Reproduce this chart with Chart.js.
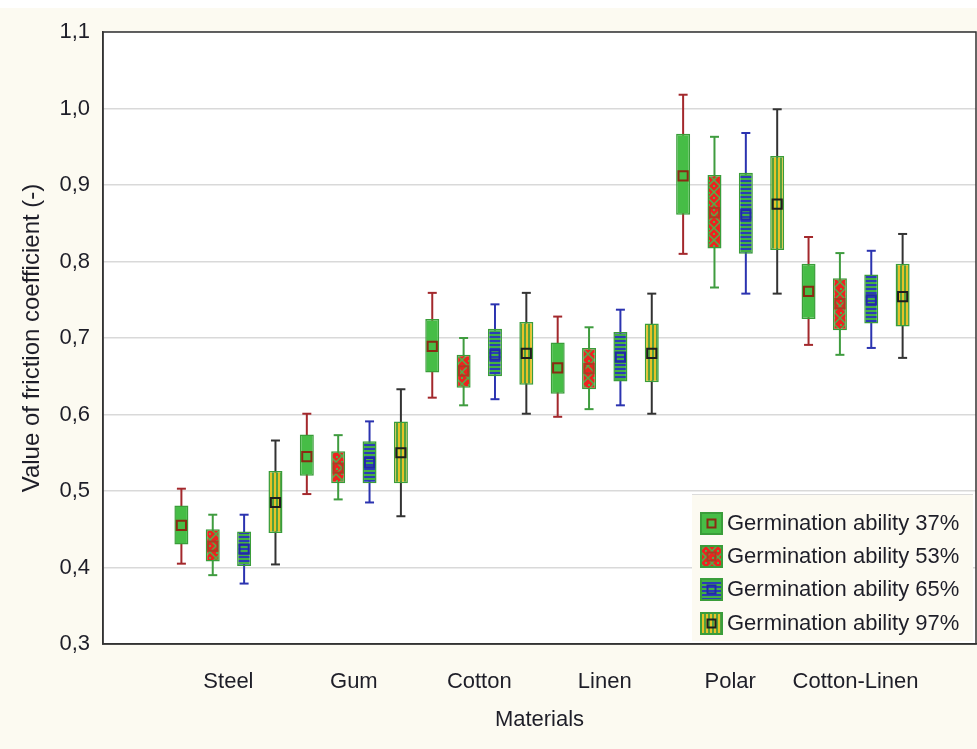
<!DOCTYPE html>
<html>
<head>
<meta charset="utf-8">
<script src="https://cdn.jsdelivr.net/npm/chart.js@4.4.0/dist/chart.umd.min.js"></script>
<style>
html, body { margin: 0; padding: 0; background: #fcfaf1; }
#wrap { position: relative; width: 977px; height: 749px; }
#legend { position: absolute; left: 692px; top: 494px; width: 281px; height: 146px; background: #fcfaf1; border-top: 1px solid #dcdcdc;
	font-family: "Liberation Sans", Arial, sans-serif; font-size: 22px; color: #1e1e28; }
.item { position: absolute; left: 8px; height: 24px; display: flex; align-items: center; white-space: nowrap; }
.item canvas { margin-right: 4px; }
</style>
</head>
<body>
<div id="wrap">
	<canvas id="myChart" width="977" height="749"></canvas>
	<div id="legend"></div>
</div>
<script>
let materials = ["Steel", "Gum", "Cotton", "Linen", "Polar", "Cotton-Linen"];
let series_name = ["Germination ability 37%", "Germination ability 53%", "Germination ability 65%", "Germination ability 97%"];

// one row per series, one value per material
let mean_val = [
	[0.455, 0.545, 0.689, 0.661, 0.912, 0.761],
	[0.428, 0.530, 0.657, 0.660, 0.864, 0.745],
	[0.424, 0.537, 0.678, 0.675, 0.861, 0.750],
	[0.485, 0.550, 0.680, 0.680, 0.875, 0.754]
];
let box_low = [
	[0.430, 0.520, 0.655, 0.627, 0.861, 0.725],
	[0.408, 0.510, 0.635, 0.633, 0.817, 0.710],
	[0.402, 0.510, 0.650, 0.643, 0.810, 0.719],
	[0.445, 0.510, 0.639, 0.642, 0.815, 0.715]
];
let box_high = [
	[0.481, 0.574, 0.725, 0.694, 0.967, 0.797],
	[0.450, 0.552, 0.678, 0.687, 0.913, 0.778],
	[0.447, 0.565, 0.712, 0.708, 0.916, 0.783],
	[0.526, 0.591, 0.721, 0.719, 0.938, 0.797]
];
let whisk_low = [
	[0.405, 0.496, 0.622, 0.597, 0.810, 0.691],
	[0.390, 0.489, 0.612, 0.607, 0.766, 0.678],
	[0.379, 0.485, 0.620, 0.612, 0.758, 0.687],
	[0.404, 0.467, 0.601, 0.601, 0.758, 0.674]
];
let whisk_high = [
	[0.503, 0.601, 0.759, 0.728, 1.018, 0.832],
	[0.469, 0.573, 0.700, 0.714, 0.963, 0.811],
	[0.469, 0.591, 0.744, 0.737, 0.968, 0.814],
	[0.566, 0.633, 0.759, 0.758, 0.999, 0.836]
];

let offsets = [-0.375, -0.125, 0.125, 0.375];
let whisk_color = ["#a3282c", "#3f9c3f", "#2b33b0", "#333333"];
let mean_color = ["#8a2a12", "#b03a22", "#2228a8", "#1e1e1e"];
let box_border = "#3a9d3a";

function makeFill(k) {
	if (k == 0) return "#46bd46";
	let c = document.createElement("canvas");
	let g = c.getContext("2d");
	if (k == 1) {
		c.width = 12; c.height = 12;
		g.fillStyle = "#ec2420"; g.fillRect(0, 0, 12, 12);
		g.strokeStyle = "#4fb04a"; g.lineWidth = 1.5;
		g.beginPath();
		g.moveTo(0, 6); g.lineTo(6, 0); g.lineTo(12, 6); g.lineTo(6, 12); g.closePath();
		g.stroke();
		g.fillStyle = "#4fb04a";
		g.fillRect(5, 5, 2, 2); g.fillRect(0, 0, 2, 2);
	} else if (k == 2) {
		c.width = 4; c.height = 4;
		g.fillStyle = "#44b044"; g.fillRect(0, 0, 4, 4);
		g.fillStyle = "#2b3cb6"; g.fillRect(0, 0, 4, 2);
	} else {
		c.width = 4; c.height = 4;
		g.fillStyle = "#e6c228"; g.fillRect(0, 0, 4, 4);
		g.fillStyle = "#52a23c"; g.fillRect(0, 0, 2, 4);
	}
	return g.createPattern(c, "repeat");
}

let datasets = [];
for (let s = 0; s < 4; s++) {
	let xs = materials.map((m, i) => i + 1 + offsets[s]);
	datasets.push({
		type: "bar", order: 4, grouped: false, maxBarThickness: 2,
		data: xs.map((x, i) => ({x: x, y: [whisk_low[s][i], whisk_high[s][i]]})),
		backgroundColor: whisk_color[s], borderWidth: 0
	});
	datasets.push({
		type: "scatter", order: 3, pointStyle: "line", radius: 4.5, borderWidth: 2,
		borderColor: whisk_color[s],
		data: xs.map((x, i) => ({x: x, y: whisk_low[s][i]})).concat(xs.map((x, i) => ({x: x, y: whisk_high[s][i]})))
	});
	datasets.push({
		type: "bar", order: 2, grouped: false, maxBarThickness: 14,
		data: xs.map((x, i) => ({x: x, y: [box_low[s][i], box_high[s][i]]})),
		backgroundColor: makeFill(s), borderColor: box_border, borderWidth: 1.5, borderSkipped: false
	});
	datasets.push({
		type: "scatter", order: 1, pointStyle: "rect", radius: 6.5, borderWidth: 2,
		borderColor: mean_color[s], backgroundColor: "rgba(0,0,0,0)",
		data: xs.map((x, i) => ({x: x, y: mean_val[s][i]}))
	});
}

const bgPlugin = {
	id: "bg",
	beforeDraw(chart) {
		let ctx = chart.ctx, a = chart.chartArea;
		ctx.save();
		ctx.fillStyle = "#ffffff";
		ctx.fillRect(0, 0, chart.width, 8);
		ctx.fillStyle = "#fcfaf1";
		ctx.fillRect(0, 8, chart.width, chart.height - 8);
		ctx.fillStyle = "#ffffff";
		ctx.fillRect(a.left, a.top, a.right - a.left, a.bottom - a.top);
		ctx.restore();
	},
	afterDraw(chart) {
		let ctx = chart.ctx, a = chart.chartArea;
		ctx.save();
		ctx.strokeStyle = "#333";
		ctx.lineWidth = 1.5;
		ctx.strokeRect(a.left, a.top, a.right - a.left, a.bottom - a.top);
		ctx.restore();
	}
};

const font = {family: "'Liberation Sans', Arial, sans-serif", size: 22};

let myChart = new Chart(document.getElementById("myChart").getContext("2d"), {
	type: "bar",
	data: {datasets},
	plugins: [bgPlugin],
	options: {
		responsive: false,
		animation: false,
		layout: {autoPadding: false, padding: {left: 15, top: 32, right: 1, bottom: 12}},
		plugins: {legend: {display: false}, tooltip: {enabled: false}},
		scales: {
			x: {
				type: "linear", min: 0, max: 6.96, offset: false,
				grid: {display: false},
				border: {color: "#333", width: 1.5},
				afterBuildTicks: function(scale) { scale.ticks = materials.map((m, i) => ({value: i + 1})); },
				afterFit: function(scale) { scale.height = 93; scale.paddingLeft = 0; scale.paddingRight = 0; },
				ticks: {
					padding: 17, color: "#1e1e28", font: font, maxRotation: 0, autoSkip: false,
					callback: function(val) { return materials[val - 1] || ""; }
				},
				title: {display: true, text: "Materials", color: "#1e1e28", font: font, padding: {top: 4, bottom: 4}}
			},
			y: {
				min: 0.3, max: 1.1,
				grid: {color: "#d9d9d9", lineWidth: 1.5, drawTicks: false},
				border: {color: "#333", width: 1.5},
				afterFit: function(scale) { scale.width = 88; },
				ticks: {
					stepSize: 0.1, padding: 13, color: "#1e1e28", font: font,
					callback: function(val) { return val.toFixed(1).replace(".", ","); }
				},
				title: {display: true, text: "Value of friction coefficient (-)", color: "#1e1e28", font: {family: font.family, size: 24}, padding: {top: 3, bottom: 4}}
			}
		}
	}
});

function load_legend() {
	let box = document.getElementById("legend");
	let tops = [16, 49, 82, 116];
	for (let s = 0; s < 4; s++) {
		let item = document.createElement("div");
		item.className = "item";
		item.style.top = tops[s] + "px";
		let ic = document.createElement("canvas");
		ic.width = 23; ic.height = 23;
		let g = ic.getContext("2d");
		g.fillStyle = makeFill(s);
		g.fillRect(1, 1, 21, 21);
		g.strokeStyle = box_border; g.lineWidth = 2;
		g.strokeRect(1, 1, 21, 21);
		g.strokeStyle = mean_color[s]; g.lineWidth = 2;
		g.strokeRect(7.5, 7.5, 8, 8);
		item.appendChild(ic);
		let t = document.createElement("span");
		t.textContent = series_name[s];
		item.appendChild(t);
		box.appendChild(item);
	}
}
load_legend();
</script>
</body>
</html>
